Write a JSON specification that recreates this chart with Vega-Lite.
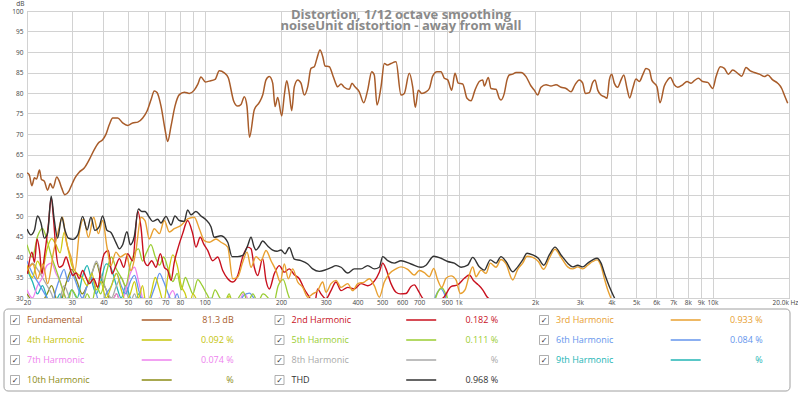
{
  "$schema": "https://vega.github.io/schema/vega-lite/v6.json",
  "padding": {"left": 3, "top": 0, "right": 0, "bottom": 0},
  "background": "white",
  "config": {"font": "Open Sans", "view": {"stroke": null}},
  "datasets": {
    "fund": [
      {"f":20.0,"d":60.5},{"f":20.4,"d":60.1},{"f":20.9,"d":57.4},{"f":21.4,"d":59.3},{"f":21.8,"d":59.0},{"f":22.4,"d":61.2},{"f":22.8,"d":58.9},{"f":23.4,"d":58.5},{"f":24.1,"d":56.3},{"f":24.7,"d":57.9},{"f":25.3,"d":56.8},{"f":26.2,"d":59.5},{"f":26.8,"d":58.5},{"f":27.4,"d":56.8},{"f":28.2,"d":55.2},{"f":29.2,"d":56.0},{"f":29.8,"d":57.2},{"f":30.9,"d":59.3},{"f":32.1,"d":60.7},{"f":33.6,"d":61.7},{"f":35.2,"d":63.8},{"f":36.8,"d":66.2},{"f":38.2,"d":67.8},{"f":39.7,"d":68.6},{"f":40.9,"d":69.9},{"f":42.2,"d":72.3},{"f":43.5,"d":73.9},{"f":45.5,"d":73.9},{"f":47.6,"d":72.7},{"f":49.8,"d":72.1},{"f":52.1,"d":72.7},{"f":54.6,"d":72.9},{"f":57.1,"d":73.9},{"f":59.4,"d":75.6},{"f":61.6,"d":78.4},{"f":63.4,"d":80.5},{"f":65.0,"d":80.1},{"f":67.4,"d":76.8},{"f":69.9,"d":71.1},{"f":71.6,"d":68.2},{"f":73.8,"d":71.9},{"f":76.5,"d":76.8},{"f":79.6,"d":79.6},{"f":83.3,"d":80.2},{"f":87.1,"d":79.9},{"f":91.1,"d":80.7},{"f":94.0,"d":82.1},{"f":96.8,"d":83.9},{"f":100.7,"d":82.7},{"f":104.4,"d":82.9},{"f":110.0,"d":83.3},{"f":114.3,"d":85.4},{"f":119.6,"d":84.9},{"f":124.0,"d":83.7},{"f":130.3,"d":78.0},{"f":135.1,"d":76.8},{"f":139.2,"d":77.2},{"f":143.4,"d":79.1},{"f":146.9,"d":76.8},{"f":150.3,"d":69.2},{"f":157.0,"d":75.9},{"f":164.3,"d":77.7},{"f":169.4,"d":79.5},{"f":174.6,"d":83.2},{"f":179.9,"d":84.0},{"f":185.5,"d":82.4},{"f":189.5,"d":76.7},{"f":194.1,"d":78.9},{"f":201.3,"d":74.4},{"f":206.1,"d":79.5},{"f":210.6,"d":83.0},{"f":215.6,"d":79.9},{"f":220.4,"d":75.7},{"f":225.6,"d":81.5},{"f":232.7,"d":83.2},{"f":239.7,"d":82.4},{"f":247.0,"d":79.5},{"f":254.8,"d":81.5},{"f":262.5,"d":86.0},{"f":270.5,"d":86.4},{"f":277.2,"d":88.5},{"f":284.8,"d":90.5},{"f":291.9,"d":88.9},{"f":298.0,"d":86.6},{"f":309.9,"d":86.4},{"f":319.5,"d":84.4},{"f":326.3,"d":82.8},{"f":334.4,"d":81.5},{"f":344.5,"d":82.2},{"f":355.0,"d":81.4},{"f":371.5,"d":80.9},{"f":380.6,"d":82.4},{"f":391.1,"d":81.5},{"f":406.7,"d":80.3},{"f":423.3,"d":77.6},{"f":438.8,"d":80.7},{"f":455.1,"d":85.2},{"f":465.9,"d":84.4},{"f":477.6,"d":77.1},{"f":495.2,"d":81.5},{"f":510.2,"d":87.2},{"f":526.2,"d":86.8},{"f":542.2,"d":87.2},{"f":567.3,"d":87.6},{"f":593.5,"d":79.5},{"f":611.6,"d":79.9},{"f":639.9,"d":84.8},{"f":660.0,"d":81.5},{"f":675.7,"d":76.5},{"f":694.4,"d":80.7},{"f":716.2,"d":79.9},{"f":744.7,"d":80.3},{"f":767.3,"d":81.1},{"f":791.1,"d":84.1},{"f":822.7,"d":85.2},{"f":853.0,"d":85.2},{"f":879.0,"d":83.6},{"f":906.5,"d":83.2},{"f":939.8,"d":80.7},{"f":968.3,"d":84.8},{"f":997.8,"d":82.4},{"f":1038.6,"d":82.2},{"f":1079.8,"d":78.7},{"f":1119.6,"d":78.1},{"f":1161,"d":80.7},{"f":1207,"d":82.8},{"f":1245,"d":83.2},{"f":1263,"d":81.7},{"f":1310,"d":83.8},{"f":1342,"d":81.1},{"f":1404,"d":80.9},{"f":1447,"d":78.7},{"f":1469,"d":78.3},{"f":1514,"d":79.9},{"f":1552,"d":83.2},{"f":1584,"d":84.4},{"f":1634,"d":84.6},{"f":1684,"d":85.0},{"f":1762,"d":85.0},{"f":1844,"d":84.0},{"f":1929,"d":81.7},{"f":1987,"d":80.7},{"f":2049,"d":79.5},{"f":2112,"d":81.4},{"f":2210,"d":82.0},{"f":2312,"d":81.7},{"f":2419,"d":82.0},{"f":2532,"d":81.4},{"f":2649,"d":81.1},{"f":2772,"d":80.3},{"f":2874,"d":82.0},{"f":2988,"d":83.2},{"f":3082,"d":82.4},{"f":3156,"d":79.9},{"f":3272,"d":80.1},{"f":3375,"d":82.6},{"f":3446,"d":83.2},{"f":3532,"d":80.7},{"f":3639,"d":79.5},{"f":3749,"d":79.1},{"f":3842,"d":78.7},{"f":3923,"d":83.2},{"f":4009,"d":84.6},{"f":4104,"d":82.4},{"f":4233,"d":81.4},{"f":4363,"d":83.2},{"f":4471,"d":84.4},{"f":4606,"d":81.1},{"f":4718,"d":78.8},{"f":4849,"d":81.1},{"f":4996,"d":83.4},{"f":5148,"d":82.8},{"f":5309,"d":84.4},{"f":5470,"d":86.0},{"f":5636,"d":85.6},{"f":5760,"d":83.2},{"f":6044,"d":81.5},{"f":6210,"d":77.6},{"f":6458,"d":81.7},{"f":6660,"d":83.2},{"f":6820,"d":83.8},{"f":7071,"d":82.0},{"f":7292,"d":81.4},{"f":7630,"d":82.0},{"f":7934,"d":82.8},{"f":8227,"d":82.4},{"f":8479,"d":83.0},{"f":8792,"d":83.6},{"f":9150,"d":82.8},{"f":9573,"d":82.6},{"f":10018,"d":81.1},{"f":10323,"d":84.0},{"f":10732,"d":86.4},{"f":11130,"d":86.0},{"f":11537,"d":84.6},{"f":12007,"d":85.6},{"f":12563,"d":84.8},{"f":13028,"d":84.1},{"f":13546,"d":86.2},{"f":14083,"d":85.4},{"f":14604,"d":85.0},{"f":15282,"d":84.6},{"f":15990,"d":84.0},{"f":16490,"d":84.4},{"f":17255,"d":83.2},{"f":18055,"d":82.4},{"f":18723,"d":81.1},{"f":19170,"d":79.5},{"f":19766,"d":77.5}
    ],
    "h2": [
      {"f":20.1,"d":35.9},{"f":20.9,"d":41.2},{"f":21.4,"d":38.7},{"f":21.9,"d":44.4},{"f":22.4,"d":41.6},{"f":22.9,"d":35.9},{"f":23.4,"d":40.0},{"f":24.3,"d":48.1},{"f":24.9,"d":54.4},{"f":25.5,"d":48.5},{"f":26.0,"d":41.6},{"f":26.8,"d":37.5},{"f":27.6,"d":37.9},{"f":28.5,"d":40.0},{"f":29.3,"d":37.9},{"f":30.3,"d":35.5},{"f":31.2,"d":36.1},{"f":32.1,"d":34.7},{"f":33.1,"d":36.7},{"f":34.1,"d":35.1},{"f":35.2,"d":33.5},{"f":36.6,"d":34.7},{"f":38.0,"d":32.6},{"f":39.1,"d":37.5},{"f":40.3,"d":40.8},{"f":41.8,"d":41.6},{"f":43.2,"d":35.9},{"f":44.8,"d":37.9},{"f":46.2,"d":39.6},{"f":48.1,"d":37.5},{"f":49.8,"d":40.8},{"f":52.1,"d":39.1},{"f":54.6,"d":51.2},{"f":56.2,"d":47.3},{"f":57.9,"d":39.1},{"f":59.7,"d":37.9},{"f":61.9,"d":39.1},{"f":64.4,"d":37.5},{"f":67.0,"d":40.8},{"f":69.4,"d":37.5},{"f":71.6,"d":36.7},{"f":73.8,"d":34.3},{"f":76.0,"d":38.7},{"f":78.8,"d":42.4},{"f":82.0,"d":45.7},{"f":85.8,"d":48.9},{"f":89.8,"d":45.7},{"f":92.5,"d":42.4},{"f":96.2,"d":44.8},{"f":99.2,"d":43.2},{"f":102.9,"d":41.6},{"f":107.7,"d":39.1},{"f":112.7,"d":40.0},{"f":117.9,"d":36.7},{"f":123.4,"d":34.7},{"f":129.1,"d":33.9},{"f":135.1,"d":35.5},{"f":141.3,"d":40.0},{"f":147.9,"d":42.4},{"f":152.4,"d":42.0},{"f":157.0,"d":37.5},{"f":161.9,"d":35.5},{"f":169.4,"d":39.6},{"f":174.6,"d":34.3},{"f":179.9,"d":32.2},{"f":188.2,"d":35.9},{"f":196.9,"d":37.9},{"f":206.1,"d":36.3},{"f":215.6,"d":37.1},{"f":225.6,"d":35.7},{"f":236.1,"d":34.7},{"f":247.0,"d":32.2},{"f":258.5,"d":30.2},{"f":270.5,"d":28.2},{"f":278.9,"d":32.2},{"f":287.4,"d":31.0},{"f":300.7,"d":29.8},{"f":314.7,"d":31.8},{"f":329.3,"d":33.9},{"f":344.6,"d":31.8},{"f":366.1,"d":32.6},{"f":388.7,"d":32.2},{"f":413.1,"d":33.5},{"f":438.9,"d":33.0},{"f":466.0,"d":34.1},{"f":487.6,"d":36.3},{"f":502.9,"d":38.5},{"f":518.1,"d":37.1},{"f":542.2,"d":33.5},{"f":567.3,"d":31.4},{"f":589.9,"d":31.0},{"f":621,"d":31.1},{"f":650,"d":32.8},{"f":670,"d":33.2},{"f":691,"d":32.0},{"f":716,"d":30.3},{"f":745,"d":29.1},{"f":800,"d":29.0},{"f":879,"d":30.3},{"f":934,"d":32.8},{"f":992,"d":33.2},{"f":1054,"d":34.8},{"f":1103,"d":35.6},{"f":1147,"d":34.2},{"f":1196,"d":33.2},{"f":1245,"d":32.0},{"f":1294,"d":30.3},{"f":1334,"d":29.5},{"f":1400,"d":27.0}
    ],
    "h3": [
      {"f":20.0,"d":36.7},{"f":21.1,"d":38.3},{"f":22.0,"d":34.7},{"f":23.1,"d":38.3},{"f":24.1,"d":33.5},{"f":25.5,"d":41.6},{"f":26.6,"d":46.5},{"f":27.6,"d":49.7},{"f":28.5,"d":44.0},{"f":29.8,"d":40.0},{"f":30.9,"d":36.7},{"f":32.1,"d":45.7},{"f":33.4,"d":49.3},{"f":34.9,"d":44.8},{"f":36.6,"d":49.7},{"f":38.2,"d":45.7},{"f":39.7,"d":48.9},{"f":41.3,"d":42.4},{"f":42.8,"d":37.9},{"f":44.8,"d":41.2},{"f":46.6,"d":40.0},{"f":49.1,"d":40.8},{"f":51.3,"d":36.7},{"f":53.7,"d":41.6},{"f":56.2,"d":49.7},{"f":58.3,"d":48.9},{"f":60.6,"d":44.4},{"f":63.4,"d":46.9},{"f":66.4,"d":45.7},{"f":69.4,"d":48.9},{"f":72.7,"d":46.1},{"f":76.0,"d":46.9},{"f":80.8,"d":47.7},{"f":85.8,"d":49.3},{"f":91.1,"d":49.7},{"f":95.4,"d":46.9},{"f":99.8,"d":44.0},{"f":104.4,"d":43.6},{"f":110.9,"d":44.4},{"f":116.1,"d":43.6},{"f":123.4,"d":42.4},{"f":129.1,"d":34.7},{"f":135.1,"d":35.1},{"f":141.3,"d":38.7},{"f":147.0,"d":41.2},{"f":152.4,"d":37.5},{"f":159.4,"d":40.1},{"f":166.8,"d":39.1},{"f":174.6,"d":41.6},{"f":182.7,"d":39.1},{"f":191.1,"d":36.7},{"f":198.7,"d":33.9},{"f":206.1,"d":38.3},{"f":213.7,"d":34.7},{"f":222.4,"d":37.1},{"f":232.7,"d":33.9},{"f":243.5,"d":32.6},{"f":254.8,"d":30.2},{"f":266.6,"d":31.0},{"f":278.9,"d":31.8},{"f":291.9,"d":33.9},{"f":300.7,"d":31.4},{"f":314.7,"d":33.5},{"f":329.3,"d":34.3},{"f":344.6,"d":32.6},{"f":366.1,"d":33.5},{"f":383.1,"d":31.8},{"f":400.9,"d":33.5},{"f":425.6,"d":33.9},{"f":445.3,"d":34.7},{"f":466.0,"d":33.0},{"f":487.6,"d":30.2},{"f":510.2,"d":33.9},{"f":533.9,"d":35.9},{"f":567.3,"d":37.1},{"f":593.5,"d":37.6},{"f":630.8,"d":37.0},{"f":669.7,"d":35.6},{"f":700.7,"d":36.7},{"f":733.2,"d":36.2},{"f":767.3,"d":35.2},{"f":798.5,"d":37.2},{"f":828.0,"d":34.4},{"f":858.6,"d":32.6},{"f":892.7,"d":34.8},{"f":934.0,"d":35.4},{"f":977.3,"d":34.4},{"f":1016.2,"d":31.1},{"f":1060.4,"d":32.0},{"f":1102.6,"d":35.6},{"f":1137.1,"d":37.6},{"f":1171.6,"d":35.2},{"f":1225.9,"d":36.8},{"f":1282.8,"d":36.0},{"f":1333.8,"d":38.5},{"f":1404.5,"d":37.5},{"f":1469,"d":39.4},{"f":1538,"d":38.3},{"f":1634,"d":34.4},{"f":1710,"d":37.0},{"f":1789,"d":38.5},{"f":1860,"d":40.2},{"f":1959,"d":39.9},{"f":2061,"d":38.9},{"f":2164,"d":37.0},{"f":2277,"d":39.7},{"f":2398,"d":41.9},{"f":2532,"d":39.9},{"f":2690,"d":37.6},{"f":2815,"d":37.1},{"f":2946,"d":37.6},{"f":3082,"d":37.1},{"f":3225,"d":38.0},{"f":3375,"d":38.9},{"f":3509,"d":39.3},{"f":3639,"d":37.8},{"f":3749,"d":34.8},{"f":3866,"d":32.0},{"f":3984,"d":29.9},{"f":4104,"d":27.9}
    ],
    "h4": [
      {"f":20,"d":38},{"f":21,"d":35},{"f":22,"d":39},{"f":23,"d":37},{"f":24,"d":42},{"f":25,"d":44.5},{"f":26,"d":43},{"f":27,"d":41},{"f":28,"d":46},{"f":29,"d":42},{"f":30,"d":38},{"f":31.5,"d":36},{"f":33,"d":35},{"f":34.5,"d":33},{"f":36,"d":36},{"f":37.5,"d":32},{"f":39,"d":34},{"f":41,"d":30},{"f":43,"d":33},{"f":45,"d":36},{"f":47,"d":32},{"f":49,"d":29},{"f":51,"d":31},{"f":53,"d":34},{"f":55,"d":30},{"f":57,"d":33},{"f":59,"d":28},{"f":61.5,"d":31},{"f":64,"d":35},{"f":66.5,"d":32},{"f":69,"d":29},{"f":72,"d":36},{"f":75,"d":40.5},{"f":78,"d":38},{"f":81,"d":33},{"f":84,"d":31},{"f":87,"d":28},{"f":90,"d":31},{"f":94,"d":29},{"f":98,"d":27},{"f":102,"d":30},{"f":106,"d":28},{"f":110,"d":26},{"f":115,"d":29},{"f":120,"d":27},{"f":125,"d":30.5},{"f":130,"d":27},{"f":136,"d":25}
    ],
    "h5": [
      {"f":20,"d":43},{"f":21,"d":40},{"f":22,"d":45},{"f":23,"d":47},{"f":24,"d":44},{"f":25,"d":40},{"f":26,"d":37},{"f":27,"d":34},{"f":28,"d":31},{"f":29,"d":29},{"f":30,"d":32},{"f":31.5,"d":30},{"f":33,"d":28},{"f":34.5,"d":31},{"f":36,"d":29},{"f":37.5,"d":33},{"f":39,"d":31},{"f":41,"d":36},{"f":43,"d":40},{"f":45,"d":37},{"f":47,"d":35},{"f":49,"d":33},{"f":51,"d":38},{"f":53,"d":41},{"f":55,"d":42},{"f":57,"d":39},{"f":59,"d":41},{"f":61.5,"d":43},{"f":64,"d":40},{"f":66.5,"d":38},{"f":69,"d":40},{"f":72,"d":37},{"f":75,"d":34},{"f":78,"d":36},{"f":81,"d":32},{"f":84,"d":35},{"f":87,"d":33},{"f":90,"d":31},{"f":94,"d":34.5},{"f":98,"d":33},{"f":102,"d":31},{"f":106,"d":29.5},{"f":110,"d":32},{"f":115,"d":30},{"f":120,"d":29},{"f":125,"d":31},{"f":130,"d":28},{"f":136,"d":30},{"f":142,"d":31.5},{"f":148,"d":29},{"f":155,"d":31},{"f":162,"d":29},{"f":170,"d":31},{"f":178,"d":30},{"f":186,"d":28},{"f":195,"d":33},{"f":204,"d":34.5},{"f":213,"d":31},{"f":222,"d":28},{"f":232,"d":26},{"f":700,"d":26},{"f":790,"d":28},{"f":830,"d":31.5},{"f":860,"d":32.5},{"f":890,"d":31},{"f":930,"d":28},{"f":1000,"d":26}
    ],
    "h6": [
      {"f":20,"d":39},{"f":21,"d":36},{"f":22,"d":34},{"f":23,"d":32},{"f":24,"d":30},{"f":25,"d":28},{"f":26,"d":32},{"f":27,"d":35},{"f":28,"d":37},{"f":29,"d":34},{"f":30,"d":36},{"f":31.5,"d":33},{"f":33,"d":30},{"f":34.5,"d":33},{"f":36,"d":35},{"f":37.5,"d":31},{"f":39,"d":28},{"f":41,"d":31},{"f":43,"d":33},{"f":45,"d":36},{"f":47,"d":33},{"f":49,"d":31},{"f":51,"d":34},{"f":53,"d":35.5},{"f":55,"d":32},{"f":57,"d":29},{"f":59,"d":27},{"f":61.5,"d":30},{"f":64,"d":33},{"f":66.5,"d":36},{"f":69,"d":34},{"f":72,"d":31},{"f":75,"d":29},{"f":78,"d":31},{"f":81,"d":28},{"f":84,"d":30},{"f":87,"d":27},{"f":90,"d":29},{"f":94,"d":26},{"f":98,"d":29},{"f":102,"d":27},{"f":106,"d":30},{"f":110,"d":28},{"f":115,"d":26},{"f":120,"d":28},{"f":125,"d":25},{"f":136,"d":27},{"f":142,"d":30.5},{"f":150,"d":31.2},{"f":158,"d":29.5},{"f":166,"d":27},{"f":700,"d":27},{"f":780,"d":28},{"f":820,"d":31},{"f":850,"d":32.3},{"f":880,"d":31},{"f":910,"d":28},{"f":950,"d":26}
    ],
    "h7": [
      {"f":20,"d":32},{"f":21,"d":30},{"f":22,"d":33},{"f":23,"d":35},{"f":24,"d":38},{"f":25,"d":38.5},{"f":26,"d":36},{"f":27,"d":34},{"f":28,"d":31},{"f":29,"d":29},{"f":30,"d":27},{"f":31.5,"d":29},{"f":33,"d":27},{"f":34.5,"d":25},{"f":36,"d":27},{"f":37.5,"d":29},{"f":39,"d":27},{"f":41,"d":25},{"f":43,"d":28},{"f":45,"d":31},{"f":47,"d":29},{"f":49,"d":32},{"f":51,"d":36},{"f":53,"d":37.5},{"f":55,"d":34},{"f":57,"d":30},{"f":59,"d":27},{"f":61.5,"d":26},{"f":64,"d":28},{"f":66.5,"d":30},{"f":69,"d":28},{"f":72,"d":30},{"f":75,"d":31.8},{"f":78,"d":29},{"f":81,"d":27},{"f":84,"d":25},{"f":90,"d":26},{"f":120,"d":27},{"f":135,"d":28},{"f":142,"d":31},{"f":146,"d":30.5},{"f":152,"d":28},{"f":160,"d":26}
    ],
    "h8": [
      {"f":20,"d":36},{"f":21,"d":38.5},{"f":22,"d":37},{"f":23,"d":35},{"f":24,"d":33},{"f":25,"d":31},{"f":26,"d":28},{"f":27,"d":30},{"f":28,"d":33},{"f":29,"d":31},{"f":30,"d":28},{"f":31.5,"d":26},{"f":33,"d":29},{"f":34.5,"d":33},{"f":36,"d":36},{"f":37.5,"d":39},{"f":39,"d":36},{"f":41,"d":32},{"f":43,"d":30},{"f":45,"d":33},{"f":47,"d":35},{"f":49,"d":32},{"f":51,"d":29},{"f":53,"d":31},{"f":55,"d":28},{"f":57,"d":26},{"f":59,"d":28},{"f":61.5,"d":30},{"f":64,"d":27},{"f":66.5,"d":25},{"f":75,"d":27},{"f":81,"d":29.5},{"f":87,"d":27},{"f":95,"d":25}
    ],
    "h9": [
      {"f":20,"d":37},{"f":21,"d":34},{"f":22,"d":31},{"f":23,"d":33},{"f":24,"d":30},{"f":25,"d":27},{"f":26,"d":29},{"f":27,"d":31},{"f":28,"d":28},{"f":29,"d":30},{"f":30,"d":32},{"f":31.5,"d":30},{"f":33,"d":35},{"f":34.5,"d":37.9},{"f":36,"d":34},{"f":37.5,"d":31},{"f":39,"d":34},{"f":41,"d":38.3},{"f":43,"d":37},{"f":45,"d":33},{"f":47,"d":30},{"f":49,"d":33},{"f":51,"d":30},{"f":53,"d":28},{"f":55,"d":31},{"f":57,"d":29},{"f":59,"d":27},{"f":61.5,"d":29},{"f":64,"d":27},{"f":66.5,"d":25},{"f":72,"d":27},{"f":78,"d":29},{"f":84,"d":27},{"f":90,"d":25}
    ],
    "h10": [
      {"f":20,"d":31},{"f":21,"d":29},{"f":22,"d":27},{"f":23,"d":29},{"f":24,"d":31},{"f":25,"d":33},{"f":26,"d":30},{"f":27,"d":28},{"f":28,"d":32},{"f":29,"d":35},{"f":30,"d":37},{"f":31.5,"d":34},{"f":33,"d":31},{"f":34.5,"d":33},{"f":36,"d":36},{"f":37.5,"d":38.5},{"f":39,"d":35},{"f":41,"d":32},{"f":43,"d":29},{"f":45,"d":31},{"f":47,"d":28},{"f":49,"d":26},{"f":53,"d":28},{"f":57,"d":30},{"f":61.5,"d":27},{"f":66,"d":25}
    ],
    "thd": [
      {"f":20.0,"d":46.8},{"f":20.7,"d":45.4},{"f":21.4,"d":46.6},{"f":22.0,"d":50.0},{"f":22.7,"d":48.3},{"f":23.4,"d":44.6},{"f":24.1,"d":45.8},{"f":24.9,"d":54.8},{"f":25.6,"d":49.1},{"f":26.4,"d":44.6},{"f":27.4,"d":49.7},{"f":28.2,"d":46.6},{"f":29.1,"d":44.6},{"f":30.3,"d":44.3},{"f":31.7,"d":45.4},{"f":33.1,"d":49.9},{"f":34.5,"d":46.6},{"f":35.7,"d":49.7},{"f":37.0,"d":46.5},{"f":38.5,"d":47.4},{"f":39.7,"d":50.0},{"f":41.3,"d":46.5},{"f":42.8,"d":46.0},{"f":44.8,"d":43.5},{"f":46.2,"d":42.0},{"f":47.6,"d":43.0},{"f":49.5,"d":46.2},{"f":51.0,"d":43.0},{"f":52.9,"d":45.0},{"f":54.9,"d":51.7},{"f":56.6,"d":51.1},{"f":58.3,"d":51.1},{"f":60.6,"d":49.7},{"f":62.5,"d":48.7},{"f":65.4,"d":49.2},{"f":67.4,"d":48.3},{"f":70.5,"d":49.9},{"f":73.8,"d":47.8},{"f":76.5,"d":50.0},{"f":79.6,"d":48.9},{"f":83.2,"d":48.7},{"f":85.8,"d":51.5},{"f":88.4,"d":50.3},{"f":92.5,"d":51.1},{"f":96.8,"d":50.0},{"f":101.3,"d":49.1},{"f":106.0,"d":47.4},{"f":109.2,"d":44.8},{"f":116.1,"d":45.2},{"f":123.4,"d":43.6},{"f":128.3,"d":40.1},{"f":135.1,"d":40.1},{"f":141.3,"d":40.4},{"f":147.9,"d":42.8},{"f":152.4,"d":44.8},{"f":156.6,"d":42.5},{"f":159.4,"d":41.7},{"f":163.8,"d":42.5},{"f":169.4,"d":43.9},{"f":177.3,"d":42.7},{"f":185.5,"d":41.7},{"f":192.9,"d":41.4},{"f":200.0,"d":41.7},{"f":207.4,"d":40.8},{"f":215.6,"d":42.3},{"f":225.6,"d":39.5},{"f":239.8,"d":39.1},{"f":254.8,"d":38.3},{"f":266.6,"d":37.1},{"f":283.0,"d":36.5},{"f":300.7,"d":36.9},{"f":314.7,"d":37.4},{"f":329.3,"d":37.9},{"f":344.6,"d":37.5},{"f":366.1,"d":36.1},{"f":388.7,"d":37.1},{"f":413.1,"d":37.1},{"f":438.9,"d":37.9},{"f":466.0,"d":37.1},{"f":487.6,"d":37.5},{"f":502.9,"d":40.1},{"f":526.2,"d":39.1},{"f":558.6,"d":38.5},{"f":593.5,"d":39.1},{"f":650.0,"d":38.3},{"f":711.6,"d":37.5},{"f":744.7,"d":38.0},{"f":798.5,"d":40.2},{"f":853.0,"d":39.7},{"f":906.5,"d":38.9},{"f":962.4,"d":38.5},{"f":1022.7,"d":37.5},{"f":1086.6,"d":38.0},{"f":1137.1,"d":39.9},{"f":1207,"d":37.6},{"f":1263,"d":36.8},{"f":1334,"d":39.3},{"f":1404,"d":38.5},{"f":1469,"d":40.1},{"f":1538,"d":38.9},{"f":1634,"d":36.4},{"f":1710,"d":37.6},{"f":1789,"d":39.3},{"f":1860,"d":40.9},{"f":1959,"d":40.5},{"f":2061,"d":39.7},{"f":2164,"d":38.0},{"f":2277,"d":40.5},{"f":2398,"d":42.4},{"f":2532,"d":40.5},{"f":2690,"d":38.5},{"f":2815,"d":37.6},{"f":2946,"d":38.0},{"f":3082,"d":37.6},{"f":3225,"d":38.5},{"f":3375,"d":39.3},{"f":3509,"d":39.7},{"f":3639,"d":38.5},{"f":3773,"d":35.6},{"f":3923,"d":32.8},{"f":4104,"d":30.1},{"f":4283,"d":27.5}
    ],
    "ttl": [
      {"f":593.5,"d":100,"t":["Distortion, 1/12 octave smoothing","noiseUnit distortion - away from wall"]}
    ],
    "leg": [
      {"s":"Fundamental","col":0,"row":0,"v":"81.3 dB"},
      {"s":"2nd Harmonic","col":1,"row":0,"v":"0.182 %"},
      {"s":"3rd Harmonic","col":2,"row":0,"v":"0.933 %"},
      {"s":"4th Harmonic","col":0,"row":1,"v":"0.092 %"},
      {"s":"5th Harmonic","col":1,"row":1,"v":"0.111 %"},
      {"s":"6th Harmonic","col":2,"row":1,"v":"0.084 %"},
      {"s":"7th Harmonic","col":0,"row":2,"v":"0.074 %"},
      {"s":"8th Harmonic","col":1,"row":2,"v":"%"},
      {"s":"9th Harmonic","col":2,"row":2,"v":"%"},
      {"s":"10th Harmonic","col":0,"row":3,"v":"%"},
      {"s":"THD","col":1,"row":3,"v":"0.968 %"}
    ]
  },
  "width": 762,
  "height": 287,
  "view": {"stroke": "#a6a6a6"},
  "resolve": {"scale": {"x": "independent", "y": "independent"}, "axis": {"x": "independent", "y": "independent"}},
  "layer": [
    {
      "encoding": {
        "x": {
          "field": "f", "type": "quantitative",
          "scale": {"type": "log", "domain": [20, 20000], "nice": false},
          "axis": {
            "title": null,
            "values": [20,30,40,50,60,70,80,90,100,200,300,400,500,600,700,800,900,1000,2000,3000,4000,5000,6000,7000,8000,9000,10000,20000],
            "labelExpr": "datum.value == 20000 ? '20.0k Hz' : (datum.value == 90 || datum.value == 800) ? '' : datum.value >= 1000 ? (datum.value / 1000) + 'k' : '' + datum.value",
            "grid": true, "gridColor": "#d2d2d2", "gridWidth": 1,
            "ticks": false, "tickSize": 0, "domain": false,
            "labelFont": "Open Sans", "labelFontSize": 6.5, "labelColor": "#444444", "labelPadding": 1,
            "labelOffset": {"condition": {"test": "datum.value == 20000", "value": -4}, "value": 0},
            "labelOverlap": false, "labelFlush": false, "labelBound": false
          }
        },
        "y": {
          "field": "d", "type": "quantitative",
          "scale": {"domain": [30, 100], "nice": false, "zero": false},
          "axis": {
            "title": "dB", "titleAngle": 0, "titleAlign": "right", "titleBaseline": "alphabetic",
            "titleX": -3, "titleY": -6, "titleFont": "Open Sans", "titleFontSize": 6.5, "titleFontWeight": "normal", "titleColor": "#444444",
            "values": [30,35,40,45,50,55,60,65,70,75,80,85,90,95,100],
            "grid": true, "gridColor": "#d2d2d2", "gridWidth": 1,
            "ticks": false, "tickSize": 0, "domain": false,
            "labelFont": "Open Sans", "labelFontSize": 6.5, "labelColor": "#444444", "labelPadding": 4,
            "minExtent": 23, "maxExtent": 23
          }
        }
      },
      "layer": [
        {"data": {"name": "h10"}, "mark": {"type": "line", "color": "#8b8b16", "strokeWidth": 1.3, "interpolate": "monotone", "clip": true}},
        {"data": {"name": "h9"}, "mark": {"type": "line", "color": "#22b5b5", "strokeWidth": 1.3, "interpolate": "monotone", "clip": true}},
        {"data": {"name": "h8"}, "mark": {"type": "line", "color": "#a9a9a9", "strokeWidth": 1.3, "interpolate": "monotone", "clip": true}},
        {"data": {"name": "h7"}, "mark": {"type": "line", "color": "#ee82ee", "strokeWidth": 1.3, "interpolate": "monotone", "clip": true}},
        {"data": {"name": "h6"}, "mark": {"type": "line", "color": "#6495ed", "strokeWidth": 1.3, "interpolate": "monotone", "clip": true}},
        {"data": {"name": "h5"}, "mark": {"type": "line", "color": "#9acd32", "strokeWidth": 1.3, "interpolate": "monotone", "clip": true}},
        {"data": {"name": "h4"}, "mark": {"type": "line", "color": "#cccc10", "strokeWidth": 1.3, "interpolate": "monotone", "clip": true}},
        {"data": {"name": "fund"}, "mark": {"type": "line", "color": "#a85c2a", "strokeWidth": 1.5, "interpolate": "monotone", "clip": true}},
        {"data": {"name": "h2"}, "mark": {"type": "line", "color": "#c8101e", "strokeWidth": 1.4, "interpolate": "monotone", "clip": true}},
        {"data": {"name": "h3"}, "mark": {"type": "line", "color": "#e8a030", "strokeWidth": 1.4, "interpolate": "monotone", "clip": true}},
        {"data": {"name": "thd"}, "mark": {"type": "line", "color": "#333333", "strokeWidth": 1.4, "interpolate": "monotone", "clip": true}},
        {
          "data": {"name": "ttl"},
          "mark": {"type": "text", "align": "center", "baseline": "alphabetic", "dy": 8, "lineHeight": 11, "font": "Open Sans", "fontSize": 13, "fontWeight": "bold", "color": "#8a8a8a"},
          "encoding": {"text": {"field": "t"}}
        }
      ]
    },
    {
      "data": {"name": "leg"},
      "encoding": {
        "x": {"field": "col", "type": "quantitative", "scale": {"domain": [0, 2.8809], "nice": false, "zero": false}, "axis": null},
        "y": {"field": "row", "type": "quantitative", "scale": {"domain": [-15.45, -1.1], "reverse": true, "nice": false, "zero": false}, "axis": null}
      },
      "layer": [
        {
          "mark": {"type": "rect", "fill": "white", "stroke": "#a0a0a0", "strokeWidth": 1, "cornerRadius": 4, "xOffset": -23, "x2Offset": 234, "yOffset": -11, "y2Offset": 11},
          "encoding": {
            "x": {"aggregate": "min", "field": "col", "type": "quantitative"},
            "x2": {"aggregate": "max", "field": "col"},
            "y": {"aggregate": "min", "field": "row", "type": "quantitative"},
            "y2": {"aggregate": "max", "field": "row"}
          }
        },
        {
          "mark": {"type": "point", "shape": "square", "size": 81, "filled": true, "fill": "white", "stroke": "#9a9a9a", "strokeWidth": 0.8, "xOffset": -12, "opacity": 1}
        },
        {
          "mark": {"type": "text", "text": "✓", "font": "DejaVu Sans", "fontSize": 8, "color": "#333333", "align": "center", "baseline": "middle", "dx": -12, "dy": 0.5}
        },
        {
          "mark": {"type": "text", "align": "left", "baseline": "middle", "fontSize": 9, "font": "Open Sans"},
          "encoding": {
            "text": {"field": "s"},
            "color": {"field": "s", "type": "nominal", "legend": null,
              "scale": {"domain": ["Fundamental","2nd Harmonic","3rd Harmonic","4th Harmonic","5th Harmonic","6th Harmonic","7th Harmonic","8th Harmonic","9th Harmonic","10th Harmonic","THD"],
                        "range": ["#a85c2a","#c8101e","#e8a030","#c4c40c","#9acd32","#6495ed","#ee82ee","#a9a9a9","#22b5b5","#8b8b16","#333333"]}}
          }
        },
        {
          "mark": {"type": "rule", "strokeWidth": 1.5, "xOffset": 114.7, "x2Offset": 144.7},
          "encoding": {
            "x2": {"field": "col"},
            "color": {"field": "s", "type": "nominal", "legend": null}
          }
        },
        {
          "mark": {"type": "text", "align": "right", "baseline": "middle", "dx": 206.7, "fontSize": 9, "font": "Open Sans"},
          "encoding": {
            "text": {"field": "v"},
            "color": {"field": "s", "type": "nominal", "legend": null}
          }
        }
      ]
    }
  ]
}
